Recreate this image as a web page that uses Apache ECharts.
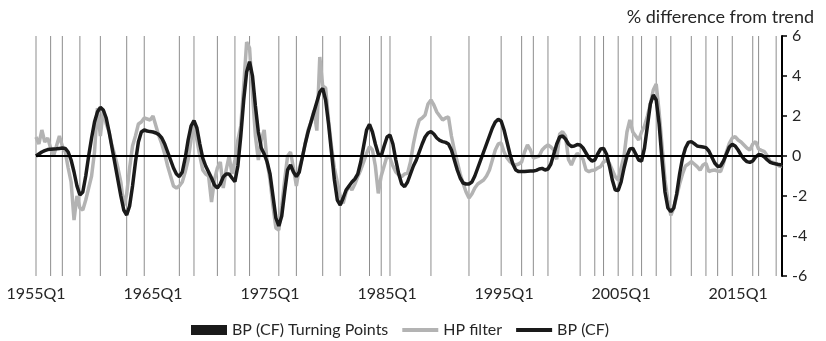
<!DOCTYPE html>
<html><head><meta charset="utf-8">
<script src="https://cdn.jsdelivr.net/npm/echarts@6/dist/echarts.min.js"></script>
<style>html,body{margin:0;padding:0;background:#fff}#c{width:826px;height:341px}</style>
</head><body><div id="c"></div>
<script>
// ---- data ----
const firstYear = 1955, lastYear = 2018;
const quarters = [];
for (let y = firstYear; y <= lastYear; y++) for (let q = 1; q <= 4; q++) quarters.push(y + 'Q' + q);

const tickLabels = ['1955Q1','1965Q1','1975Q1','1985Q1','1995Q1','2005Q1','2015Q1'];

const turningPoints = ['1955Q1','1956Q2','1957Q2','1958Q4','1960Q3','1962Q4','1964Q2','1967Q2','1968Q3',
  '1970Q3','1972Q1','1973Q2','1975Q4','1977Q2','1979Q3','1981Q1','1983Q3','1984Q3','1985Q2','1988Q4',
  '1992Q1','1994Q4','1996Q3','1997Q3','1998Q4','2001Q3','2002Q4','2003Q3','2004Q4','2006Q1','2006Q4',
  '2008Q1','2009Q2','2011Q1','2012Q2','2013Q2','2014Q3','2016Q2','2016Q4','2018Q2'];

const hpFilter = [
 0.95,0.60,1.30,0.70,  0.90,0.40,0.00,0.50,  1.00,0.50,0.20,-0.60,  -1.30,-3.20,-2.00,-2.60,
 -2.70,-2.20,-1.60,-1.00,  0.20,2.40,1.00,2.30,  1.60,1.20,0.50,0.00,  -0.60,-1.30,-2.50,-1.90,
 -0.60,0.50,1.00,1.60,  1.70,1.90,1.85,1.80,  2.00,1.50,1.00,0.60,  0.10,-0.50,-1.00,-1.50,
 -1.60,-1.50,-1.30,-0.80,  -0.20,0.80,1.60,0.80,  0.00,-0.70,-0.90,-1.00,  -2.30,-1.20,-0.60,-0.30,
 -1.60,-0.70,0.00,-0.90,  -0.20,0.80,1.50,3.50,  5.70,5.40,3.10,1.00,  -0.20,0.80,1.30,-0.30,
 -1.20,-2.50,-3.60,-3.70,  -2.50,-1.20,0.00,0.20,  -0.60,-1.50,-0.60,-0.10,  0.60,1.30,1.70,2.27,
 1.27,4.95,3.50,3.40,  1.80,0.47,-0.60,-1.30,  -2.00,-2.37,-1.80,-1.50,  -1.70,-1.40,-1.03,-0.70,
 -0.30,0.13,0.47,0.30,  -0.50,-1.87,-1.00,-0.50,  0.00,-0.10,-0.50,-0.80,  -0.95,-1.03,-0.90,-0.87,
 -0.30,0.60,1.30,1.80,  1.90,2.05,2.60,2.80,  2.55,2.20,2.00,1.80,  1.90,1.95,1.00,0.30,
 -0.30,-0.90,-1.37,-1.80,  -2.10,-1.90,-1.60,-1.40,  -1.30,-1.20,-1.00,-0.70,  -0.20,0.30,0.60,0.65,
 0.20,-0.10,-0.28,-0.40,  -0.45,-0.40,-0.30,0.20,  0.55,0.30,-0.10,-0.05,  0.00,0.30,0.45,0.55,
 0.45,0.30,-0.17,1.10,  1.22,1.00,-0.17,-0.45,  -0.10,0.13,0.00,-0.17,  -0.70,-0.78,-0.72,-0.70,
 -0.60,-0.53,-0.30,-0.20,  -0.37,-0.70,-1.03,-1.20,  -0.60,0.00,1.20,1.80,  1.20,1.00,0.80,1.20,
 1.50,2.00,2.60,3.30,  3.60,2.20,0.50,-1.20,  -2.20,-2.97,-2.60,-2.00,  -1.40,-0.90,-0.50,-0.40,
 -0.28,-0.40,-0.53,-0.70,  -0.45,-0.37,-0.78,-0.72,  -0.70,-0.75,-0.78,-0.37,  0.20,0.63,0.90,0.97,
 0.80,0.70,0.55,0.40,  0.30,0.60,0.72,0.35,  0.28,0.22,0.00,-0.28,  -0.32,-0.37,-0.50,-0.53
];

const bpCF = [
 0.00,0.10,0.20,0.27,  0.32,0.34,0.35,0.36,  0.38,0.40,0.38,0.20,  -0.20,-0.80,-1.50,-1.95,
 -1.80,-1.00,0.00,0.90,  1.70,2.20,2.43,2.30,  1.90,1.20,0.40,-0.40,  -1.20,-2.00,-2.70,-2.95,
 -2.50,-1.50,-0.30,0.70,  1.20,1.30,1.25,1.22,  1.20,1.15,1.07,0.90,  0.60,0.20,-0.20,-0.60,
 -0.90,-1.03,-0.80,-0.10,  0.80,1.50,1.77,1.40,  0.60,-0.10,-0.50,-0.80,  -1.10,-1.45,-1.60,-1.40,
 -1.05,-0.90,-0.90,-1.10,  -1.28,-0.50,1.00,2.80,  4.20,4.72,4.00,2.50,  1.20,0.40,0.10,-0.30,
 -0.90,-2.00,-3.10,-3.50,  -3.00,-1.80,-0.70,-0.45,  -0.80,-1.03,-0.80,-0.10,  0.60,1.20,1.70,2.20,
 2.70,3.20,3.38,2.80,  1.60,0.20,-1.20,-2.20,  -2.45,-2.10,-1.70,-1.50,  -1.30,-1.15,-0.90,-0.30,
 0.50,1.30,1.58,1.20,  0.60,0.10,0.00,0.50,  0.95,1.05,0.60,-0.20,  -0.90,-1.40,-1.53,-1.30,
 -0.90,-0.50,-0.20,0.20,  0.60,0.95,1.15,1.22,  1.10,0.90,0.78,0.72,  0.68,0.60,0.30,-0.20,
 -0.70,-1.10,-1.35,-1.40,  -1.40,-1.30,-1.00,-0.60,  -0.20,0.20,0.60,1.00,  1.40,1.70,1.83,1.75,
 1.30,0.70,0.10,-0.40,  -0.70,-0.78,-0.78,-0.78,  -0.76,-0.75,-0.75,-0.72,  -0.65,-0.62,-0.70,-0.65,
 -0.40,0.10,0.60,0.95,  1.00,0.85,0.60,0.48,  0.50,0.57,0.55,0.40,  0.15,-0.10,-0.25,-0.20,
 0.10,0.35,0.38,0.10,  -0.50,-1.20,-1.70,-1.72,  -1.30,-0.60,0.00,0.35,  0.38,0.10,-0.20,-0.25,
 0.40,1.50,2.60,3.05,  2.80,1.60,-0.20,-1.80,  -2.60,-2.78,-2.60,-1.90,  -0.90,-0.10,0.40,0.68,
 0.72,0.62,0.50,0.47,  0.45,0.42,0.25,-0.05,  -0.35,-0.52,-0.50,-0.25,  0.10,0.45,0.58,0.50,
 0.30,0.05,-0.15,-0.28,  -0.32,-0.25,-0.05,0.07,  0.05,-0.05,-0.20,-0.32,  -0.37,-0.40,-0.43,-0.45
];

const axisMin = -6, axisMax = 6, axisStep = 2;

// ---- chart ----
const tpUp = quarters.map(q => turningPoints.includes(q) ? axisMax : '-');
const tpDown = quarters.map(q => turningPoints.includes(q) ? axisMin : '-');
const FONT = 'Lato';
const TXT = '#262626';

const chart = echarts.init(document.getElementById('c'), null, {renderer: 'canvas'});
chart.setOption({
  animation: false,
  textStyle: {fontFamily: FONT},
  title: {
    text: '% difference from trend', right: 7, top: 3,
    textStyle: {fontFamily: FONT, fontSize: 18, fontWeight: 'normal', color: TXT}
  },
  grid: {left: 36, right: 44, top: 36, bottom: 65, containLabel: false},
  legend: {
    left: 186, top: 317, itemWidth: 36, itemHeight: 10, itemGap: 12,
    textStyle: {fontFamily: FONT, fontSize: 16, color: TXT},
    data: [
      {name: 'BP (CF) Turning Points', icon: 'rect', itemStyle: {color: '#1a1a1a'}},
      {name: 'HP filter', itemStyle: {opacity: 0}, lineStyle: {color: '#b3b3b3', width: 4}},
      {name: 'BP (CF)', itemStyle: {opacity: 0}, lineStyle: {color: '#1a1a1a', width: 4}}
    ]
  },
  xAxis: {
    type: 'category', data: quarters, boundaryGap: false,
    axisLine: {show: false}, axisTick: {show: false}, splitLine: {show: false},
    axisLabel: {
      interval: (i, v) => tickLabels.includes(v),
      fontFamily: FONT, fontSize: 16, color: TXT, margin: 10
    }
  },
  yAxis: {
    type: 'value', position: 'right', min: axisMin, max: axisMax, interval: axisStep,
    axisLine: {show: true, lineStyle: {color: '#000', width: 2}},
    axisTick: {show: true, length: 5, lineStyle: {color: '#000', width: 1.5}},
    splitLine: {show: false},
    axisLabel: {fontFamily: FONT, fontSize: 16, color: TXT, margin: 10}
  },
  series: [
    {name: 'BP (CF) Turning Points', type: 'bar', stack: 'tp', data: tpUp, barWidth: 1,
     itemStyle: {color: 'rgba(0,0,0,0.45)'}, silent: true, z: 1},
    {name: 'BP (CF) Turning Points', type: 'bar', stack: 'tp', data: tpDown, barWidth: 1,
     itemStyle: {color: 'rgba(0,0,0,0.45)'}, silent: true, z: 1},
    {name: 'HP filter', type: 'line', data: hpFilter, symbol: 'none',
     lineStyle: {color: '#b3b3b3', width: 3.5}, itemStyle: {color: '#b3b3b3'}, z: 2,
     markLine: {silent: true, symbol: 'none', label: {show: false},
       lineStyle: {color: '#000', width: 2, type: 'solid'}, data: [{yAxis: 0}]}},
    {name: 'BP (CF)', type: 'line', data: bpCF, symbol: 'none',
     lineStyle: {color: '#1a1a1a', width: 3.5}, itemStyle: {color: '#1a1a1a'}, z: 3}
  ]
});
</script></body></html>
